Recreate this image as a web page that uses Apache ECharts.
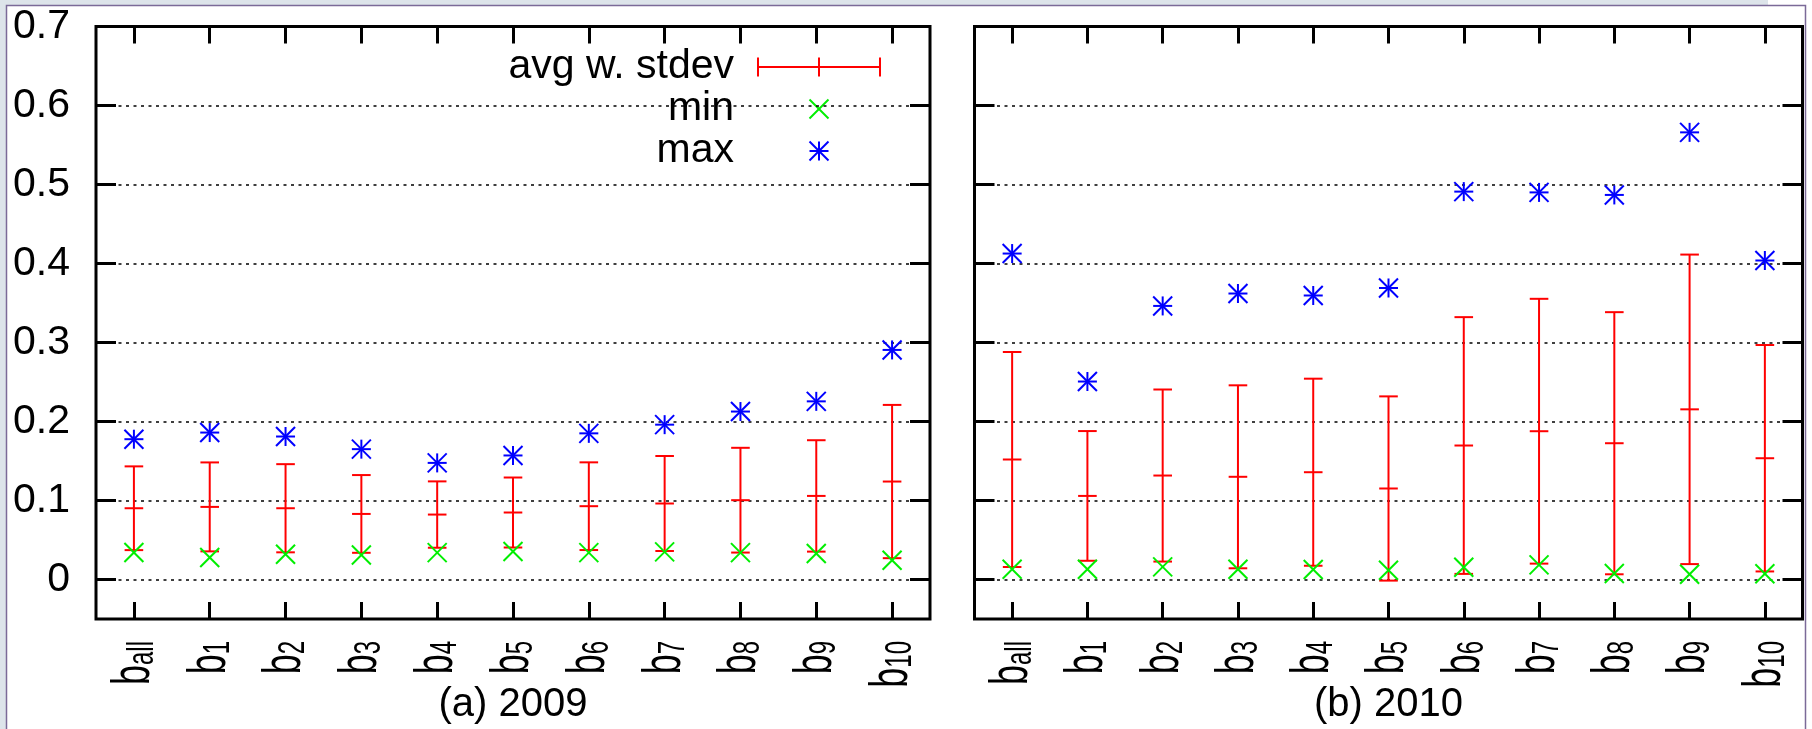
<!DOCTYPE html>
<html>
<head>
<meta charset="utf-8">
<script src="https://cdn.jsdelivr.net/npm/echarts@6/dist/echarts.min.js"></script>
<style>
  html, body { margin: 0; padding: 0; background: #fff; }
  #chart { width: 1812px; height: 729px; }
</style>
</head>
<body>
<div id="chart"></div>
<script>
// ---------------- data ----------------
const categories = ['b_all', 'b_1', 'b_2', 'b_3', 'b_4', 'b_5', 'b_6', 'b_7', 'b_8', 'b_9', 'b_10'];

// (a) 2009
const avg2009 = [0.0902, 0.0919, 0.0902, 0.0830, 0.0822, 0.0848, 0.0928, 0.0962, 0.1004, 0.1058, 0.1240];
const sd2009  = [0.0530, 0.0563, 0.0558, 0.0492, 0.0420, 0.0443, 0.0555, 0.0601, 0.0663, 0.0705, 0.0970];
const min2009 = [0.0342, 0.0278, 0.0320, 0.0310, 0.0340, 0.0354, 0.0340, 0.0350, 0.0340, 0.0330, 0.0244];
const max2009 = [0.1776, 0.1860, 0.1810, 0.1650, 0.1476, 0.1570, 0.1850, 0.1960, 0.2126, 0.2255, 0.2906];

// (b) 2010
const avg2010 = [0.1519, 0.1058, 0.1316, 0.1300, 0.1358, 0.1152, 0.1696, 0.1877, 0.1725, 0.2154, 0.1535];
const sd2010  = [0.1361, 0.0821, 0.1089, 0.1158, 0.1184, 0.1166, 0.1625, 0.1676, 0.1659, 0.1959, 0.1433];
const min2010 = [0.0130, 0.0130, 0.0160, 0.0130, 0.0127, 0.0118, 0.0155, 0.0185, 0.0075, 0.0067, 0.0072];
const max2010 = [0.4126, 0.2506, 0.3463, 0.3620, 0.3595, 0.3690, 0.4910, 0.4900, 0.4868, 0.5660, 0.4038];

const yLabelValues = [0, 0.1, 0.2, 0.3, 0.4, 0.5, 0.6, 0.7];
const yGridValues  = [0, 0.1, 0.2, 0.3, 0.4, 0.5, 0.6];
const captions = ['(a) 2009', '(b) 2010'];
const legendLabels = ['avg w. stdev', 'min', 'max'];

// ---------------- style / layout ----------------
const FONT = 'Liberation Sans';
const RED = '#ff0000', GREEN = '#00ee00', BLUE = '#0000ff';
const Y_MIN = -0.05, Y_MAX = 0.7;
const GRID_TOP = 26.5, GRID_H = 592.5;
const grids = [
  { left: 96, width: 834 },
  { left: 974.5, width: 828 }
];
const MARK = 9.5;

const chart = echarts.init(document.getElementById('chart'), null, { renderer: 'canvas' });

function xAxisDef(g, pos) {
  return {
    type: 'category', gridIndex: g, data: categories, position: pos, boundaryGap: true,
    axisLine: { show: false, onZero: false },
    axisTick: { show: true, inside: true, alignWithLabel: true, interval: 0, length: 17,
                lineStyle: { color: '#000', width: 3 } },
    axisLabel: { show: false },
    splitLine: { show: false }
  };
}

function yAxisDef(g, pos) {
  const left = pos === 'left';
  return {
    type: 'value', gridIndex: g, position: pos, min: Y_MIN, max: Y_MAX,
    axisLine: { show: false, onZero: false },
    axisTick: { show: true, inside: true, length: 20, customValues: yGridValues,
                lineStyle: { color: '#000', width: 3 } },
    axisLabel: {
      show: left && g === 0, customValues: yLabelValues, margin: 26,
      fontFamily: FONT, fontSize: 41, color: '#000',
      formatter: v => (Math.abs(v) < 1e-9 ? '0' : v.toFixed(1))
    },
    splitLine: { show: false }
  };
}

function errRender(params, api) {
  const i = api.value(0), m = api.value(1), s = api.value(2);
  const t = api.coord([i, m + s]), c = api.coord([i, m]), b = api.coord([i, m - s]);
  const st = { stroke: RED, lineWidth: 2 };
  const hw = 9.3;
  return {
    type: 'group',
    children: [
      { type: 'line', shape: { x1: t[0], y1: t[1], x2: b[0], y2: b[1] }, style: st },
      { type: 'line', shape: { x1: t[0] - hw, y1: t[1], x2: t[0] + hw, y2: t[1] }, style: st },
      { type: 'line', shape: { x1: b[0] - hw, y1: b[1], x2: b[0] + hw, y2: b[1] }, style: st },
      { type: 'line', shape: { x1: c[0] - hw, y1: c[1], x2: c[0] + hw, y2: c[1] }, style: st }
    ]
  };
}

function crossRender(params, api) {
  const p = api.coord([api.value(0), api.value(1)]);
  const h = MARK, st = { stroke: GREEN, lineWidth: 2 };
  return {
    type: 'group',
    children: [
      { type: 'line', shape: { x1: p[0] - h, y1: p[1] - h, x2: p[0] + h, y2: p[1] + h }, style: st },
      { type: 'line', shape: { x1: p[0] - h, y1: p[1] + h, x2: p[0] + h, y2: p[1] - h }, style: st }
    ]
  };
}

function starRender(params, api) {
  const p = api.coord([api.value(0), api.value(1)]);
  const h = MARK, st = { stroke: BLUE, lineWidth: 2 };
  return {
    type: 'group',
    children: [
      { type: 'line', shape: { x1: p[0] - h, y1: p[1], x2: p[0] + h, y2: p[1] }, style: st },
      { type: 'line', shape: { x1: p[0], y1: p[1] - h, x2: p[0], y2: p[1] + h }, style: st },
      { type: 'line', shape: { x1: p[0] - h, y1: p[1] - h, x2: p[0] + h, y2: p[1] + h }, style: st },
      { type: 'line', shape: { x1: p[0] - h, y1: p[1] + h, x2: p[0] + h, y2: p[1] - h }, style: st }
    ]
  };
}

const panels = [
  { avg: avg2009, sd: sd2009, min: min2009, max: max2009 },
  { avg: avg2010, sd: sd2010, min: min2010, max: max2010 }
];

const series = [];
panels.forEach((p, g) => {
  const xi = g * 2, yi = g * 2;
  series.push({
    name: legendLabels[0], type: 'custom', xAxisIndex: xi, yAxisIndex: yi, clip: false, z: 3,
    renderItem: errRender,
    data: categories.map((c, i) => [i, p.avg[i], p.sd[i]]),
    markLine: {
      silent: true, symbol: ['none', 'none'], z: 1, animation: false,
      label: { show: false },
      lineStyle: { type: [3, 4.5], color: '#000', width: 1.6 },
      emphasis: { disabled: true },
      data: yGridValues.map(v => ({ yAxis: v }))
    }
  });
  series.push({
    name: legendLabels[1], type: 'custom', xAxisIndex: xi, yAxisIndex: yi, clip: false, z: 4,
    renderItem: crossRender,
    data: categories.map((c, i) => [i, p.min[i]])
  });
  series.push({
    name: legendLabels[2], type: 'custom', xAxisIndex: xi, yAxisIndex: yi, clip: false, z: 5,
    renderItem: starRender,
    data: categories.map((c, i) => [i, p.max[i]])
  });
});

// legend (gnuplot-style: text right-aligned, sample to the right)
const LFONT = '41px "' + FONT + '"';
const LX_TEXT = 734, LX_SYM = 819, LY = [67, 109, 151];
const legendGraphics = [
  { type: 'text', x: LX_TEXT, y: LY[0], style: { text: legendLabels[0], align: 'right', verticalAlign: 'middle', font: LFONT, fill: '#000' } },
  { type: 'text', x: LX_TEXT, y: LY[1], style: { text: legendLabels[1], align: 'right', verticalAlign: 'middle', font: LFONT, fill: '#000' } },
  { type: 'text', x: LX_TEXT, y: LY[2], style: { text: legendLabels[2], align: 'right', verticalAlign: 'middle', font: LFONT, fill: '#000' } },
  { type: 'line', shape: { x1: 758, y1: LY[0], x2: 880, y2: LY[0] }, style: { stroke: RED, lineWidth: 2 } },
  { type: 'line', shape: { x1: 758, y1: LY[0] - 9.5, x2: 758, y2: LY[0] + 9.5 }, style: { stroke: RED, lineWidth: 2 } },
  { type: 'line', shape: { x1: 880, y1: LY[0] - 9.5, x2: 880, y2: LY[0] + 9.5 }, style: { stroke: RED, lineWidth: 2 } },
  { type: 'line', shape: { x1: LX_SYM, y1: LY[0] - 9.5, x2: LX_SYM, y2: LY[0] + 9.5 }, style: { stroke: RED, lineWidth: 2 } },
  { type: 'line', shape: { x1: LX_SYM - MARK, y1: LY[1] - MARK, x2: LX_SYM + MARK, y2: LY[1] + MARK }, style: { stroke: GREEN, lineWidth: 2 } },
  { type: 'line', shape: { x1: LX_SYM - MARK, y1: LY[1] + MARK, x2: LX_SYM + MARK, y2: LY[1] - MARK }, style: { stroke: GREEN, lineWidth: 2 } },
  { type: 'line', shape: { x1: LX_SYM - MARK, y1: LY[2], x2: LX_SYM + MARK, y2: LY[2] }, style: { stroke: BLUE, lineWidth: 2 } },
  { type: 'line', shape: { x1: LX_SYM, y1: LY[2] - MARK, x2: LX_SYM, y2: LY[2] + MARK }, style: { stroke: BLUE, lineWidth: 2 } },
  { type: 'line', shape: { x1: LX_SYM - MARK, y1: LY[2] - MARK, x2: LX_SYM + MARK, y2: LY[2] + MARK }, style: { stroke: BLUE, lineWidth: 2 } },
  { type: 'line', shape: { x1: LX_SYM - MARK, y1: LY[2] + MARK, x2: LX_SYM + MARK, y2: LY[2] - MARK }, style: { stroke: BLUE, lineWidth: 2 } }
];

const captionGraphics = grids.map((gr, g) => ({
  type: 'text', x: gr.left + gr.width / 2, y: 705, z: 10,
  style: { text: captions[g], align: 'center', verticalAlign: 'middle', font: '40px "' + FONT + '"', fill: '#000' }
}));

// viewer chrome around the page
const frameGraphics = [
  { type: 'rect', shape: { x: 0, y: 0, width: 1768, height: 5 }, style: { fill: '#dde4ea' }, z: -10 },
  { type: 'rect', shape: { x: 0, y: 0, width: 6, height: 729 }, style: { fill: '#dde4ea' }, z: -10 },
  { type: 'polyline', shape: { points: [[6.5, 729], [6.5, 5.5], [1805.5, 5.5], [1805.5, 729]] },
    style: { stroke: '#7b6a98', lineWidth: 1.5, fill: null }, z: -9 }
];

const baseGraphics = [...frameGraphics, ...legendGraphics, ...captionGraphics];

const option = {
  backgroundColor: '#ffffff',
  animation: false,
  grid: grids.map(gr => ({
    left: gr.left, top: GRID_TOP, width: gr.width, height: GRID_H,
    show: true, borderColor: '#000', borderWidth: 3, backgroundColor: '#fff', containLabel: false
  })),
  xAxis: [xAxisDef(0, 'bottom'), xAxisDef(0, 'top'), xAxisDef(1, 'bottom'), xAxisDef(1, 'top')],
  yAxis: [yAxisDef(0, 'left'), yAxisDef(0, 'right'), yAxisDef(1, 'left'), yAxisDef(1, 'right')],
  series: series,
  graphic: { elements: baseGraphics }
};
chart.setOption(option);

// rotated category labels (gnuplot-like, right-justified towards the axis and
// stretched along the reading direction), placed at the x-axis category positions
const LABEL_END_Y = 641;
const labelGraphics = [];
[0, 2].forEach(axisIdx => {
  categories.forEach(name => {
    const x = chart.convertToPixel({ xAxisIndex: axisIdx }, name);
    const parts = name.split('_');
    labelGraphics.push({
      type: 'text', x: x, y: LABEL_END_Y, rotation: Math.PI / 2, scaleX: 1, scaleY: 1.5, z: 10,
      style: {
        text: '{b|' + parts[0] + '}{s|' + parts[1] + '}',
        align: 'right', verticalAlign: 'middle', fill: '#000',
        rich: {
          b: { fontFamily: FONT, fontSize: 36, lineHeight: 36, verticalAlign: 'top', fill: '#000' },
          s: { fontFamily: FONT, fontSize: 24, lineHeight: 24, padding: [28, 0, 0, 0], verticalAlign: 'bottom', fill: '#000' }
        }
      }
    });
  });
});
chart.setOption({ graphic: { elements: [...baseGraphics, ...labelGraphics] } });
</script>
</body>
</html>
